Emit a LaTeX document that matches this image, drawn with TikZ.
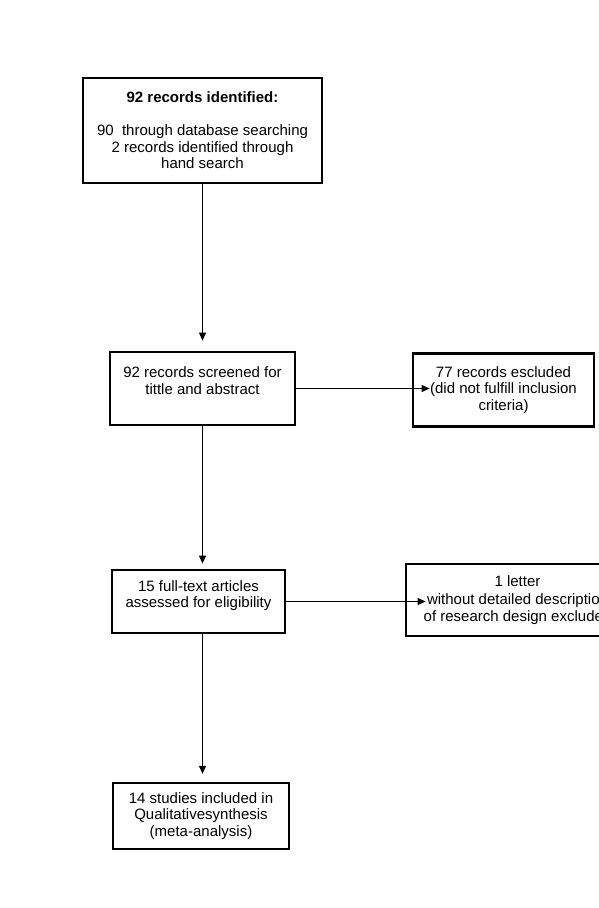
\documentclass[tikz,border=0pt]{standalone}
\usepackage{fontspec}
\setmainfont{Liberation Sans}
\usetikzlibrary{arrows.meta}

\tikzset{
  box/.style={draw, line width=2.8pt, rectangle, inner sep=0pt, align=center,
    font=\fontsize{15}{16.5}\selectfont},
  link/.style={->, line width=1pt}
}

\begin{document}
\begin{tikzpicture}[x=1pt, y=-1pt, >={Triangle[length=8pt,width=7pt]}]
  \useasboundingbox (0,0) rectangle (599,908);

  \node[box, minimum width=239, minimum height=105] (ident) at (202.5,130.5)
    {\textbf{92 records identified:}\\[16.5pt]90\ \ through database searching\\2 records identified through\\hand search};
  \node[box, minimum width=185, minimum height=73] (screen) at (202.5,388.5)
    {92 records screened for\\tittle and abstract\\[-6pt] \strut};
  \node[box, minimum width=181, minimum height=73] (excl1) at (503.5,390)
    {77 records escluded\\(did not fulfill inclusion\\criteria)};
  \node[box, minimum width=173, minimum height=63] (fulltext) at (198.5,601.5)
    {15 full-text articles\\assessed for eligibility\\[-7pt] \strut};
  \node[box, minimum width=223, minimum height=72] (excl2) at (517.5,600)
    {1 letter\\[2pt]without detailed description\\of research design excluded};
  \node[box, minimum width=176, minimum height=66, line width=2.3pt] (incl) at (201,816)
    {14 studies included in\\Qualitativesynthesis\\(meta-analysis)};

  \draw[link, shorten >=10pt] (ident.south) -- (ident.south |- screen.north);
  \draw[link, shorten >=-18pt] (screen.east) -- (screen.east -| excl1.west);
  \draw[link, shorten >=5pt] (screen.south) -- (screen.south |- fulltext.north);
  \draw[link, shorten >=-21pt] (fulltext.east) -- (fulltext.east -| excl2.west);
  \draw[link, shorten >=8pt] (fulltext.south -| screen.south) -- (screen.south |- incl.north);
\end{tikzpicture}
\end{document}
